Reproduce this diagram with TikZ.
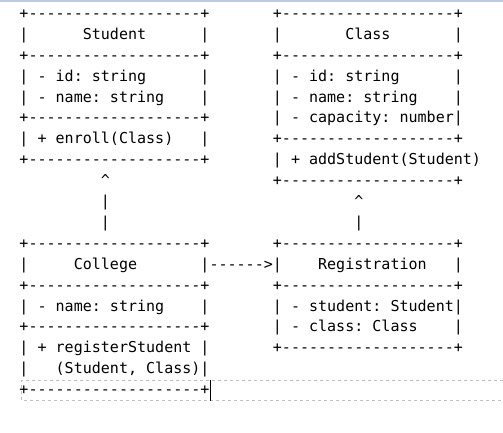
\documentclass[tikz,border=0pt]{standalone}
\usepackage{fontspec}
\setmonofont{DejaVu Sans Mono}
\newcommand\ascfont{\ttfamily\fontsize{15.03pt}{20.9pt}\selectfont}
\newcommand\ascl[4]{\node[asc] (#1) at ({19.5+9.05*#2},{-(18.4+20.9*#3)}) {#4};}
\tikzset{
  asc/.style={anchor=base west, inner sep=0pt, outer sep=0pt, font=\ascfont, text=black},
}
\begin{document}
\begin{tikzpicture}[x=1pt,y=1pt]
\useasboundingbox (0,0) rectangle (503,-432);
\fill[white] (0,0) rectangle (503,-432);
% top band of the editor
\fill[fill={rgb,255:red,190;green,200;blue,224}] (0,0) rectangle (503,-1.8);
% selection frame and cursor of the editor
\draw[draw={rgb,255:red,192;green,192;blue,192}, line width=0.8pt, dash pattern=on 3.3pt off 2.7pt]
  (503,-380.5) -- (21.5,-380.5) -- (21.5,-400.5) -- (503,-400.5);
\draw[black, line width=1.1pt] (210.5,-380) -- (210.5,-400.5);

% Student
\ascl{stu0}{0}{0}{+-------------------+}
\ascl{stu1}{0}{1}{|~~~~~~Student~~~~~~|}
\ascl{stu2}{0}{2}{+-------------------+}
\ascl{stu3}{0}{3}{|~-~id:~string~~~~~~|}
\ascl{stu4}{0}{4}{|~-~name:~string~~~~|}
\ascl{stu5}{0}{5}{+-------------------+}
\ascl{stu6}{0}{6}{|~+~enroll(Class)~~~|}
\ascl{stu7}{0}{7}{+-------------------+}
% Student <- College
\ascl{lc8}{9}{8}{\textasciicircum}
\ascl{lc9}{9}{9}{|}
\ascl{lc10}{9}{10}{|}

% Class
\ascl{cla0}{28}{0}{+-------------------+}
\ascl{cla1}{28}{1}{|~~~~~~~Class~~~~~~~|}
\ascl{cla2}{28}{2}{+-------------------+}
\ascl{cla3}{28}{3}{|~-~id:~string~~~~~~|}
\ascl{cla4}{28}{4}{|~-~name:~string~~~~|}
\ascl{cla5}{28}{5}{|~-~capacity:~number|}
\ascl{cla6}{28}{6}{+-------------------+}
\ascl{cla7}{28}{7}{|~+~addStudent(Student)}
\ascl{cla8}{28}{8}{+-------------------+}
% Class <- Registration
\ascl{rc9}{37}{9}{\textasciicircum}
\ascl{rc10}{37}{10}{|}

% College
\ascl{col11}{0}{11}{+-------------------+}
\ascl{col12}{0}{12}{|~~~~~College~~~~~~~|}
\ascl{col13}{0}{13}{+-------------------+}
\ascl{col14}{0}{14}{|~-~name:~string~~~~|}
\ascl{col15}{0}{15}{+-------------------+}
\ascl{col16}{0}{16}{|~+~registerStudent~|}
\ascl{col17}{0}{17}{|~~~(Student,~Class)|}
\ascl{col18}{0}{18}{+-------------------+}
% College -> Registration
\ascl{arr12}{21}{12}{------>}

% Registration
\ascl{reg11}{28}{11}{+-------------------+}
\ascl{reg12}{28}{12}{|~~~~Registration~~~|}
\ascl{reg13}{28}{13}{+-------------------+}
\ascl{reg14}{28}{14}{|~-~student:~Student|}
\ascl{reg15}{28}{15}{|~-~class:~Class~~~~|}
\ascl{reg16}{28}{16}{+-------------------+}
\end{tikzpicture}
\end{document}
